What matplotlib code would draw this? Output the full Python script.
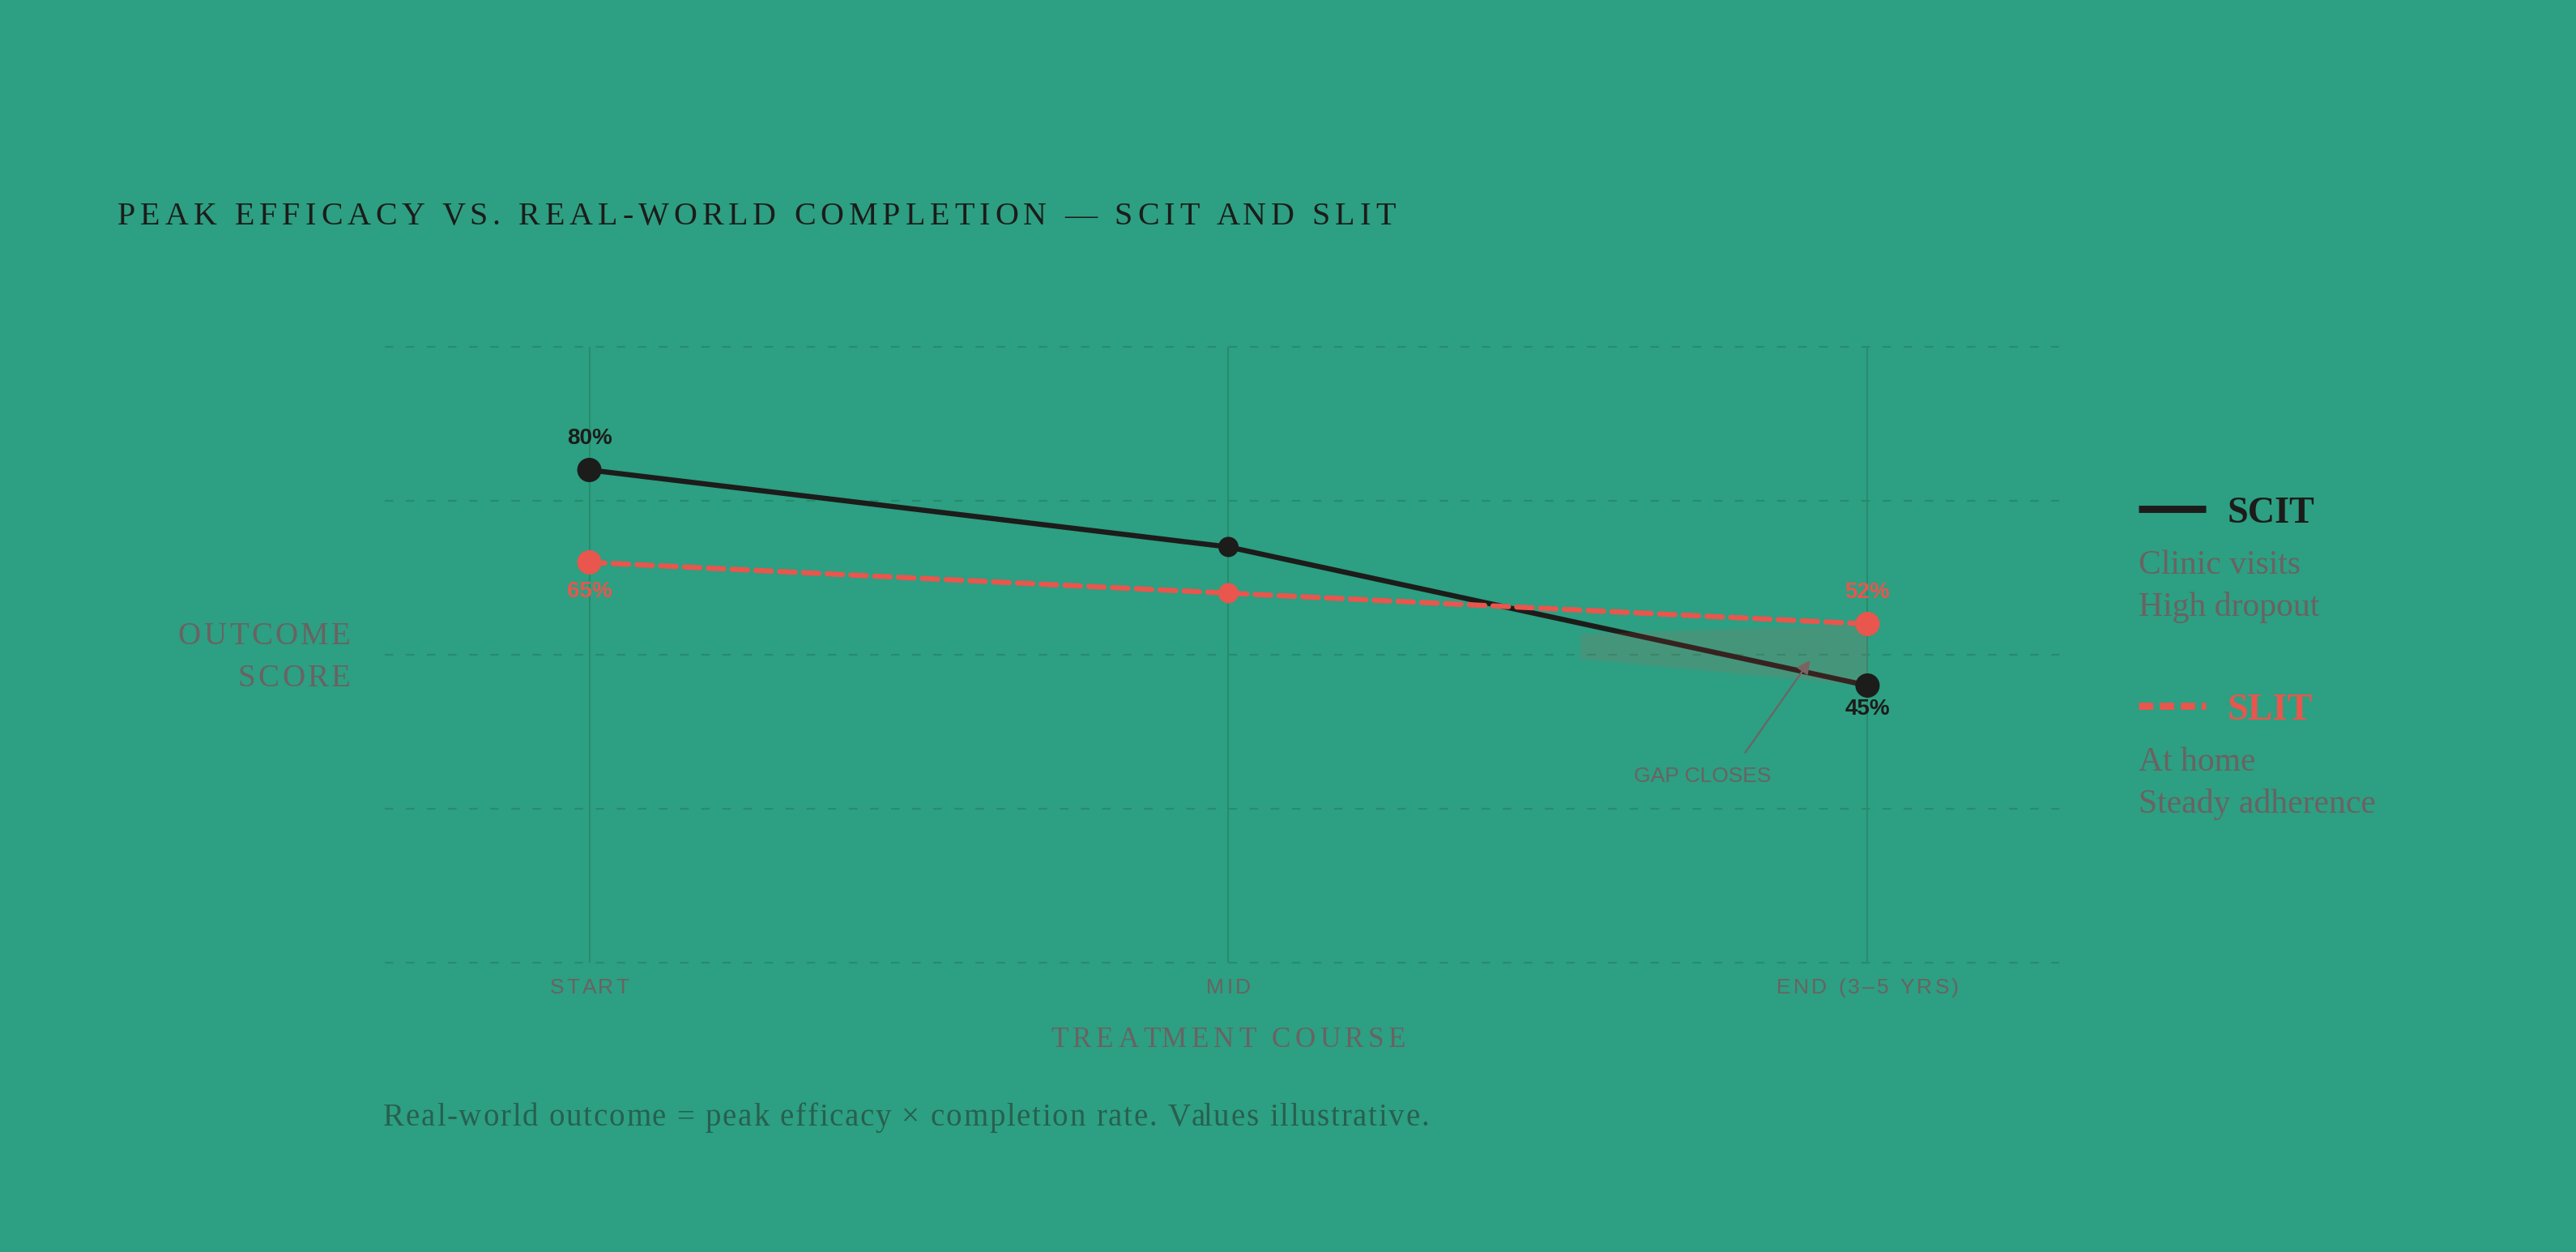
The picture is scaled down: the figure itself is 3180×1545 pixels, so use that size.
import matplotlib
matplotlib.use("Agg")
import matplotlib.pyplot as plt
from matplotlib.font_manager import FontProperties
from matplotlib.lines import Line2D
from matplotlib.transforms import IdentityTransform

# data
stages = ["START", "MID", "END (3–5 YRS)"]
scit = [80, 67.5, 45]
slit = [65, 60, 55]
scit_labels = ["80%", "", "45%"]
slit_labels = ["65%", "", "52%"]
grid_levels = [0, 25, 50, 75, 100]
gap_x = [1.55, 2.0]
gap_low = [49.4, 45]
gap_high = [53.4, 55]

BG = "#2d9f82"
INK = "#1c1c1a"
RED = "#e8564d"
GREY = "#6a6262"
GRID = "#278b6d"
FOOT = "#27604f"
SERIF = "Liberation Serif"
SANS = "Liberation Sans"


def spaced(fig, x, y, s, size, track, ha="left", family=SERIF, weight="normal", color=GREY):
    """Text with letter spacing, x/y in display pixels (baseline)."""
    fp = FontProperties(family=family, size=size, weight=weight)
    r = fig.canvas.get_renderer()

    def w(t):
        return r.get_text_width_height_descent(t, fp, ismath=False)[0]

    ref = w("H")
    offs = [w(s[:i] + "H") - ref for i in range(len(s))]
    total = w(s) + track * (len(s) - 1)
    if ha == "center":
        x -= total / 2
    elif ha == "right":
        x -= total
    for i, ch in enumerate(s):
        if ch != " ":
            fig.text(x + offs[i] + track * i, y, ch, fontproperties=fp, color=color,
                     transform=IdentityTransform(), ha="left", va="baseline")


fig = plt.figure(figsize=(15.9, 7.725), dpi=200, facecolor=BG)
ax = fig.add_axes([0.1494, 0.2311, 0.65, 0.4919])
ax.set_facecolor("none")
ax.set_xlim(-0.32, 2.30)
ax.set_ylim(0, 100)
for sp in ax.spines.values():
    sp.set_visible(False)
x = list(range(len(stages)))
ax.set_xticks(x)
ax.set_xticklabels([])
ax.set_yticks([])
ax.tick_params(length=0)
ax.set_axisbelow(True)
ax.grid(axis="x", color=GRID, lw=0.7)
for g in grid_levels:
    ax.axhline(g, color=GRID, lw=0.75, dashes=(5, 7.5), clip_on=False, zorder=0)

# lines
ax.plot(x, scit, color=INK, lw=2.3, solid_capstyle="round", zorder=3)
ax.plot(x, slit, color=RED, lw=2.3, dashes=(3, 1.6), dash_capstyle="round", zorder=3)
ax.fill_between(gap_x, gap_low, gap_high, color=RED, alpha=0.13, lw=0, zorder=4)
marker_d = [10.8, 9, 10.8]
ax.scatter(x, scit, s=[d ** 2 for d in marker_d], color=INK, zorder=5, lw=0)
ax.scatter(x, slit, s=[d ** 2 for d in marker_d], color=RED, zorder=5, lw=0)

# value labels
scit_off = [14, 0, -10.5]
slit_off = [-13, 0, 14]
for xi, v, lab, off in zip(x, scit, scit_labels, scit_off):
    if lab:
        ax.annotate(lab, (xi, v), xytext=(0, off), textcoords="offset points", ha="center",
                    va="center", family=SANS, weight="bold", fontsize=10, color=INK, zorder=6)
for xi, v, lab, off in zip(x, slit, slit_labels, slit_off):
    if lab:
        ax.annotate(lab, (xi, v), xytext=(0, off), textcoords="offset points", ha="center",
                    va="center", family=SANS, weight="bold", fontsize=10, color=RED, zorder=6)

ax.annotate("GAP CLOSES", xy=(1.91, 49.1), xytext=(1.742, 30.3), ha="center", va="center",
            family=SANS, fontsize=9.5, color=GREY,
            arrowprops=dict(arrowstyle="-|>", color="#6b6565", lw=0.8, shrinkA=5, shrinkB=0,
                            relpos=(0.74, 1.0), mutation_scale=12))

# tick labels and axis titles
for i, lab in enumerate(stages):
    px, py = ax.transData.transform((i, 0))
    spaced(fig, px, py - 38, lab, 9.5, 3.3, ha="center", family=SANS)
mid_x = ax.transData.transform((1, 0))[0]
spaced(fig, mid_x, 253, "TREATMENT COURSE", 12.6, 5.6, ha="center")
spaced(fig, 433, 750, "OUTCOME", 14, 3.5, ha="right")
spaced(fig, 433, 698, "SCORE", 14, 3.5, ha="right")

# title
spaced(fig, 145, 1268, "PEAK EFFICACY VS. REAL-WORLD COMPLETION — SCIT AND SLIT", 14.4, 6, color=INK)

# legend
fig.add_artist(Line2D([0.8302, 0.8563], [0.5935, 0.5935], transform=fig.transFigure,
                      color=INK, lw=3.2, solid_capstyle="butt"))
fig.add_artist(Line2D([0.8302, 0.8563], [0.4362, 0.4362], transform=fig.transFigure,
                      color=RED, lw=3.2, dashes=(2, 0.9), dash_capstyle="butt"))
fig.text(0.8645, 0.5825, "SCIT", family=SERIF, weight="bold", fontsize=16.6, color=INK)
fig.text(0.8302, 0.5415, "Clinic visits", family=SERIF, fontsize=15, color=GREY)
fig.text(0.8302, 0.5081, "High dropout", family=SERIF, fontsize=15, color=GREY)
fig.text(0.8645, 0.4254, "SLIT", family=SERIF, weight="bold", fontsize=16.6, color=RED)
fig.text(0.8302, 0.3847, "At home", family=SERIF, fontsize=15, color=GREY)
fig.text(0.8302, 0.3506, "Steady adherence", family=SERIF, fontsize=15, color=GREY)

# footnote
spaced(fig, 473, 156, "Real-world outcome = peak efficacy × completion rate. Values illustrative.",
       14, 1.8, color=FOOT)

fig.savefig("out.png", dpi=200, facecolor=BG)
